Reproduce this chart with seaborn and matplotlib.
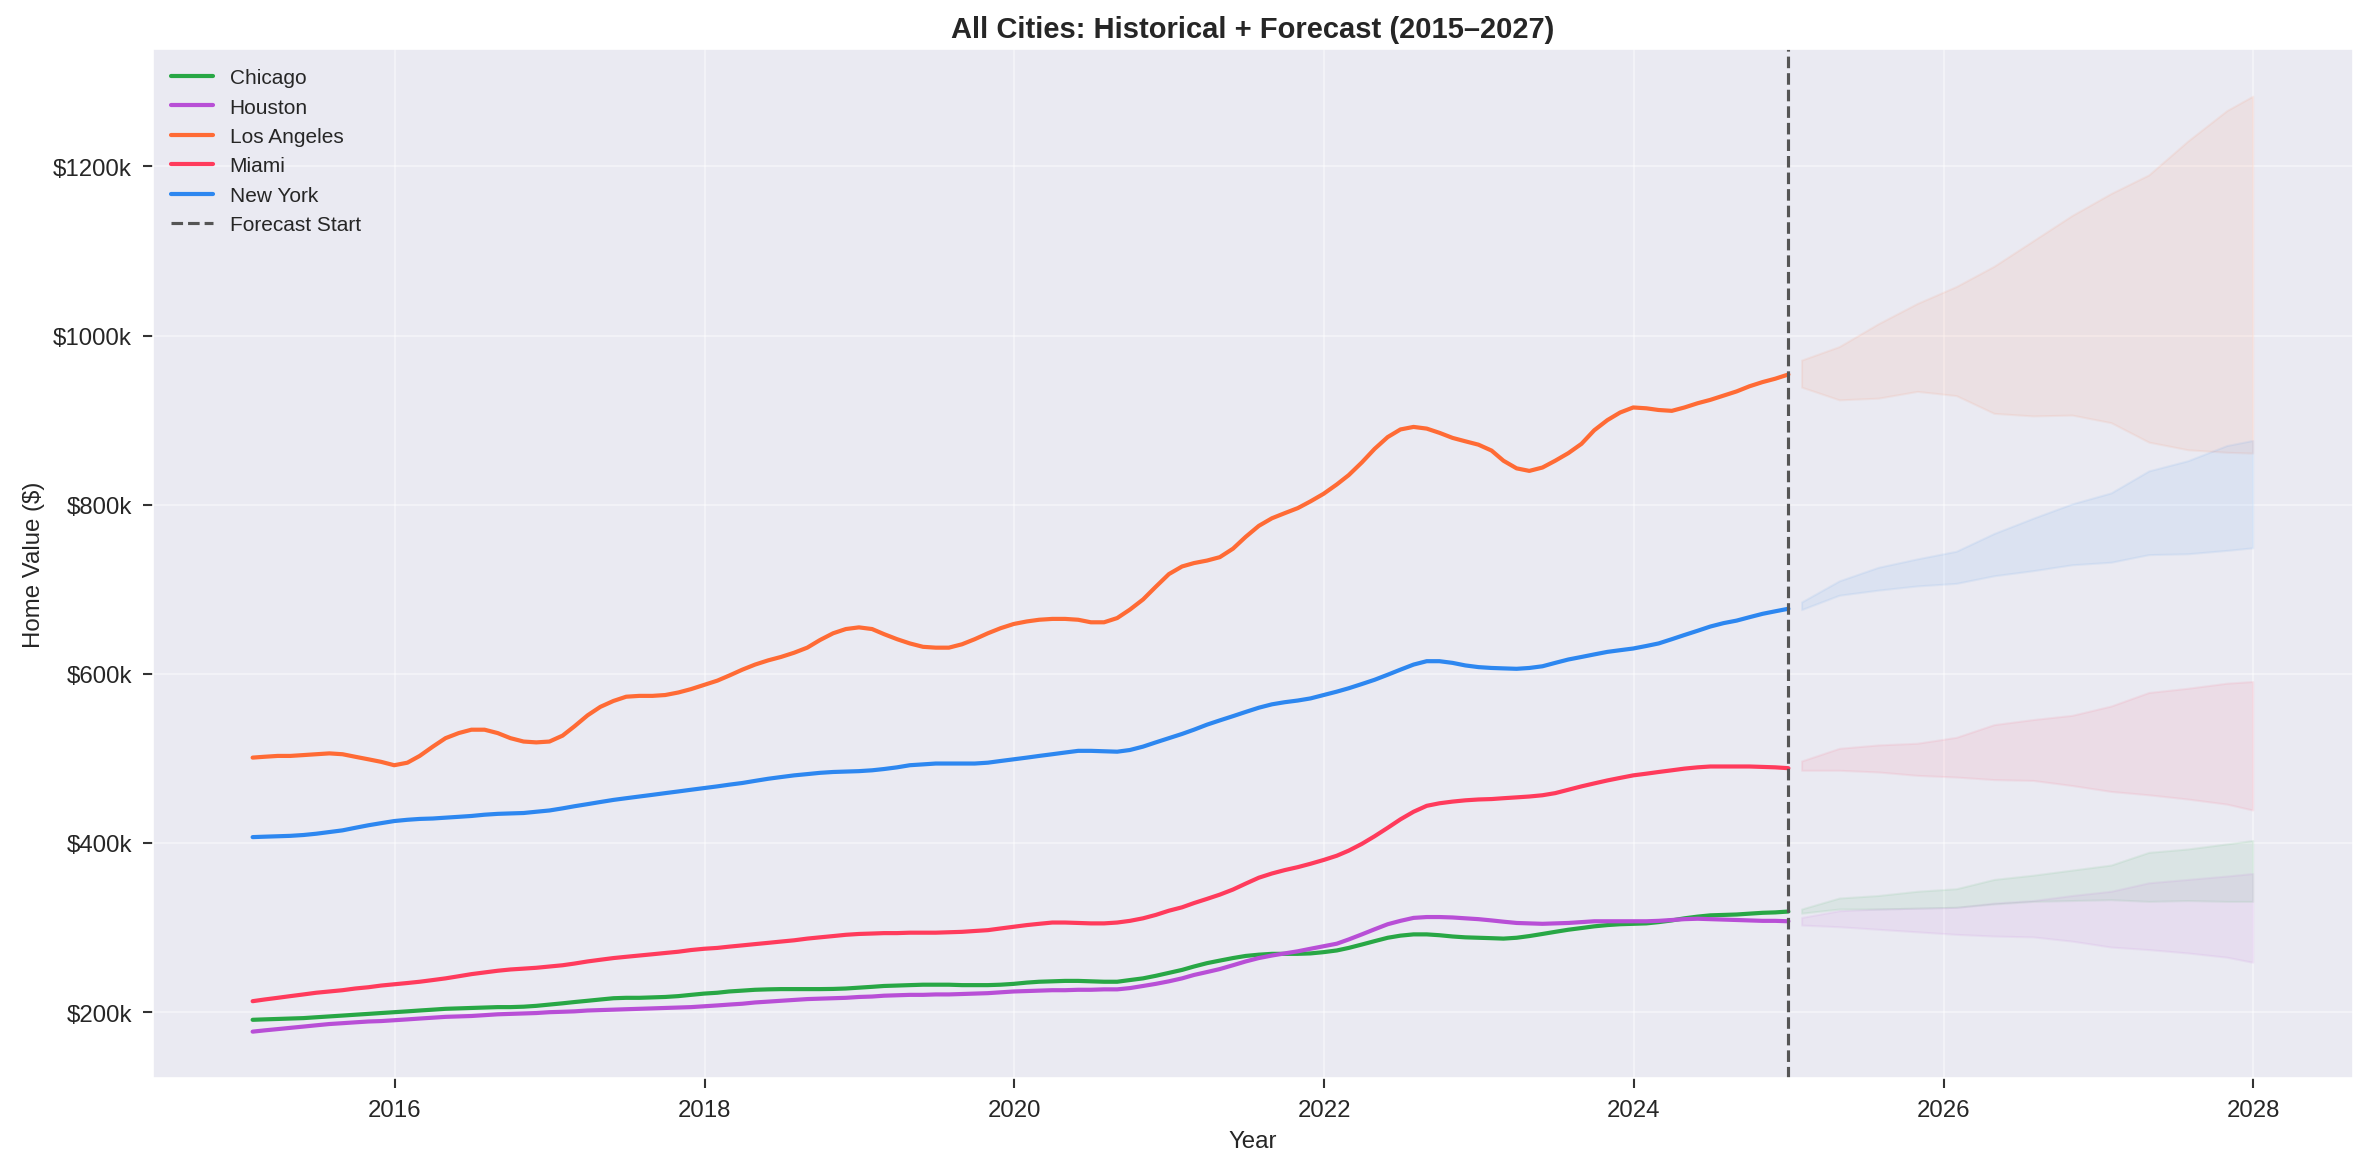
import pandas as pd
import numpy as np
import matplotlib
matplotlib.use("Agg")
import matplotlib.pyplot as plt
import matplotlib.dates as mdates
from matplotlib.ticker import FuncFormatter
import seaborn as sns

# monthly history Jan 2015 .. Dec 2024, values in $k
hist_dates = pd.date_range("2015-01-31", "2024-12-31", freq="ME")

chicago = [191, 191.5, 192, 192.5, 193, 194, 195, 196, 197, 198, 199, 200,
           201, 202, 203, 204, 204.5, 205, 205.5, 206, 206, 206.5, 207.5, 209,
           210.5, 212, 213.5, 215, 216.5, 217, 217, 217.5, 218, 219, 220.5, 222,
           223, 224.5, 225.5, 226.5, 227, 227.3, 227.3, 227.3, 227.3, 227.5, 228, 229,
           230, 231, 231.5, 232, 232.5, 232.5, 232.5, 232, 232, 232, 232.5, 233.5,
           235, 236, 236.5, 237, 237, 236.5, 236, 236, 238, 240, 243, 246.5,
           250, 254, 258, 261, 264, 266.5, 268, 269, 269, 269, 269.5, 271,
           273, 276, 280, 284, 288, 290.5, 292, 292, 291, 289.5, 288.5, 288,
           287.5, 287, 288, 290, 292.5, 295, 297.5, 299.5, 301.5, 303, 304, 304.5,
           305, 306.5, 308.5, 311, 313, 314.5, 315, 315.5, 316.5, 317.5, 318, 319]
houston = [177, 178.5, 180, 181.5, 183, 184.5, 186, 187, 188, 189, 189.5, 190.5,
           191.5, 192.5, 193.5, 194.5, 195, 195.5, 196.5, 197.5, 198, 198.5, 199, 200,
           200.5, 201, 202, 202.5, 203, 203.5, 204, 204.5, 205, 205.5, 206, 207,
           208, 209, 210, 211.5, 212.5, 213.5, 214.5, 215.5, 216, 216.5, 217, 218,
           218.5, 219.5, 220, 220.5, 220.5, 221, 221, 221.5, 222, 222.5, 223.5, 224.5,
           225, 225.5, 226, 226, 226.5, 226.5, 227, 227, 228.5, 231, 233.5, 236.5,
           240, 244, 247.5, 251, 255.5, 260, 264, 267, 269.5, 272, 275, 278,
           281, 286, 292, 298, 304, 308, 311.5, 312.5, 312.5, 312, 311, 310,
           308.5, 307, 305.5, 305, 304.5, 305, 305.5, 306.5, 307.5, 307.5, 307.5, 307.5,
           307.5, 308, 309, 310, 310.5, 310, 309.5, 309, 308.5, 308, 308, 307.5]
los_angeles = [501, 502, 503, 503, 504, 505, 506, 505, 502, 499, 496, 492,
               495, 503, 514, 524, 530, 534, 534, 530, 524, 520, 519, 520,
               527, 538, 551, 561, 568, 573, 574, 574, 575, 578, 582, 587,
               592, 598, 605, 611, 616, 620, 625, 631, 640, 648, 653, 655,
               653, 647, 641, 636, 632, 631, 631, 635, 641, 648, 654, 659,
               662, 664, 665, 665, 664, 661, 661, 666, 676, 688, 703, 718,
               727, 731, 734, 738, 748, 762, 775, 784, 790, 796, 804, 813,
               824, 835, 850, 866, 880, 889, 892, 890, 885, 879, 875, 871,
               864, 852, 843, 840, 844, 852, 861, 872, 888, 900, 909, 915,
               914, 912, 911, 915, 920, 924, 929, 934, 940, 945, 949, 954]
miami = [213, 215, 217, 219, 221, 223, 224.5, 226, 228, 229.5, 231.5, 233,
         234.5, 236, 238, 240, 242.5, 245, 247, 249, 250.5, 251.5, 252.5, 254,
         255.5, 257.5, 260, 262, 264, 265.5, 267, 268.5, 270, 271.5, 273.5, 275,
         276, 277.5, 279, 280.5, 282, 283.5, 285, 287, 288.5, 290, 291.5, 292.5,
         293, 293.5, 293.5, 294, 294, 294, 294.5, 295, 296, 297, 299, 301,
         303, 304.5, 306, 306, 305.5, 305, 305, 306, 308, 311, 315, 320,
         324, 329, 334, 339, 345, 352, 359, 364, 368, 371.5, 375.5, 380,
         385, 391, 399, 408, 418, 428, 437, 444, 447, 449, 450.5, 451.5,
         452, 453, 454, 455, 456.5, 459, 463, 467, 470.5, 474, 477, 480,
         482, 484, 486, 488, 489.5, 490.5, 490.5, 490.5, 490.5, 490, 489.5, 488.5]
new_york = [407, 407.5, 408, 408.5, 409.5, 411, 413, 415, 418, 421, 423.5, 426,
            427.5, 428.5, 429, 430, 431, 432, 433.5, 434.5, 435, 435.5, 437, 438.5,
            441, 443.5, 446, 448.5, 451, 453, 455, 457, 459, 461, 463, 465,
            467, 469, 471, 473.5, 476, 478, 480, 481.5, 483, 484, 484.5, 485,
            486, 487.5, 489.5, 492, 493, 494, 494, 494, 494, 495, 497, 499,
            501, 503, 505, 507, 509, 509, 508.5, 508, 510, 514, 519, 524,
            529, 534, 540, 545, 550, 555, 560, 564, 566.5, 568.5, 571, 575,
            579, 583, 588, 593, 599, 605, 611, 615, 615, 613, 610, 608,
            607, 606.5, 606, 607, 609, 613, 617, 620, 623, 626, 628, 630,
            633, 636, 641, 646, 651, 656, 660, 663, 667, 671, 674, 677]

# forecast intervals (quarterly + last month), in $k
fc_dates = list(pd.date_range("2025-01-31", "2027-10-31", freq="3ME")) + [pd.Timestamp("2027-12-31")]

chicago_lo = [317, 322, 322, 323, 324, 328, 331, 332, 333, 331, 332, 331, 331]
chicago_hi = [322, 335, 338, 343, 346, 357, 362, 368, 374, 389, 393, 399, 403]
houston_lo = [303, 301, 298, 295, 292, 290, 289, 284, 277, 274, 270, 265, 259]
houston_hi = [312, 320, 322, 323, 324, 329, 332, 338, 343, 353, 357, 361, 364]
los_angeles_lo = [939, 924, 926, 934, 929, 908, 905, 906, 897, 874, 865, 862, 861]
los_angeles_hi = [971, 987, 1014, 1038, 1058, 1082, 1112, 1142, 1168, 1190, 1230, 1266, 1283]
miami_lo = [486, 486, 484, 480, 478, 475, 474, 468, 461, 457, 452, 446, 439]
miami_hi = [497, 512, 516, 518, 525, 540, 546, 551, 562, 578, 583, 589, 591]
new_york_lo = [676, 693, 699, 704, 707, 716, 722, 729, 732, 741, 742, 746, 749]
new_york_hi = [685, 710, 726, 736, 745, 766, 784, 801, 814, 840, 852, 870, 876]

cities = ["Chicago", "Houston", "Los Angeles", "Miami", "New York"]
colors = ["#28a745", "#b84fd6", "#ff6b35", "#ff3b5c", "#2d87f0"]

hist = {"Chicago": chicago, "Houston": houston, "Los Angeles": los_angeles,
        "Miami": miami, "New York": new_york}
bands = {"Chicago": (chicago_lo, chicago_hi), "Houston": (houston_lo, houston_hi),
         "Los Angeles": (los_angeles_lo, los_angeles_hi), "Miami": (miami_lo, miami_hi),
         "New York": (new_york_lo, new_york_hi)}

df = pd.concat([pd.DataFrame({"date": hist_dates, "value": np.array(v) * 1000, "city": c})
                for c, v in hist.items()], ignore_index=True)

sns.set_style("darkgrid")
plt.rcParams["font.family"] = ["Liberation Sans", "DejaVu Sans"]

fig, ax = plt.subplots(figsize=(15.8, 7.813), dpi=150)
sns.lineplot(data=df, x="date", y="value", hue="city", hue_order=cities,
             palette=dict(zip(cities, colors)), linewidth=2, ax=ax)

for c, col in zip(cities, colors):
    lo, hi = bands[c]
    ax.fill_between(fc_dates, np.array(lo) * 1000, np.array(hi) * 1000, color=col, alpha=0.08)

ax.axvline(hist_dates[-1], color="#555555", linestyle="--", linewidth=1.5, label="Forecast Start")

ax.set_title("All Cities: Historical + Forecast (2015\u20132027)", fontsize=14, fontweight="bold")
ax.set_xlabel("Year", fontsize=11.5)
ax.set_ylabel("Home Value ($)", fontsize=11.5)
ax.yaxis.set_major_formatter(FuncFormatter(lambda v, _: f"${v/1000:.0f}k"))
ax.xaxis.set_major_locator(mdates.YearLocator(2))
ax.xaxis.set_major_formatter(mdates.DateFormatter("%Y"))
ax.tick_params(axis="both", labelsize=11.5, length=5, width=1, pad=5, color="#333333",
               bottom=True, left=True)
ax.grid(alpha=0.5)
ax.legend(loc="upper left", fontsize=10, frameon=False)

fig.subplots_adjust(left=0.0644, right=0.9927, top=0.957, bottom=0.079)
fig.savefig("out.png", dpi=150)
